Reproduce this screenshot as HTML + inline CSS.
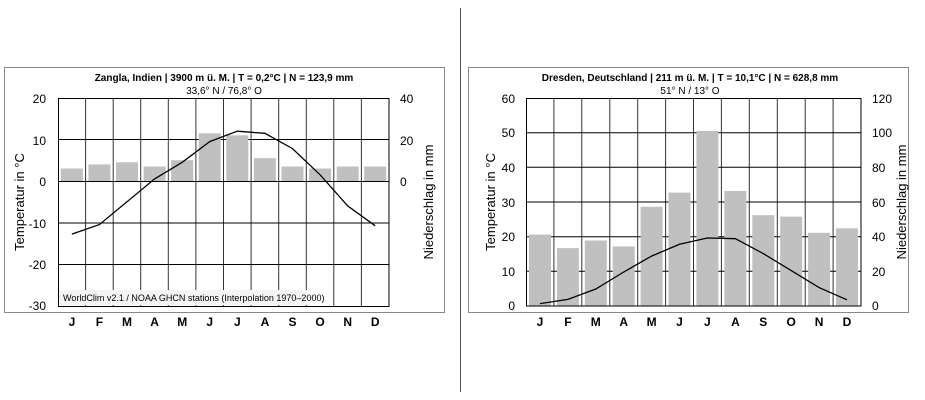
<!DOCTYPE html>
<html><head><meta charset="utf-8"><style>
html,body{margin:0;padding:0;background:#fff;width:925px;height:400px;overflow:hidden}
svg{display:block}
text{font-family:"Liberation Sans",sans-serif;fill:#000}
.t{font-size:10px;font-weight:bold}
.s{font-size:10px}
.a{font-size:13px}
.m{font-size:12px;font-weight:bold}
.y{font-size:12px}
</style></head><body>
<svg width="925" height="400" viewBox="0 0 925 400">
<line x1="460.5" y1="8" x2="460.5" y2="392" stroke="#555" stroke-width="1"/>

<!-- LEFT CHART -->
<rect x="4.5" y="67.5" width="440" height="245" fill="#fff" stroke="#888"/>
<text class="t" x="224" y="81" text-anchor="middle">Zangla, Indien | 3900 m ü. M. | T = 0,2°C | N = 123,9 mm</text>
<text class="s" x="224" y="94" text-anchor="middle">33,6° N / 76,8° O</text>
<g stroke="#333" stroke-width="1">
<line x1="85.6" y1="98" x2="85.6" y2="306"/><line x1="113.2" y1="98" x2="113.2" y2="306"/><line x1="140.7" y1="98" x2="140.7" y2="306"/><line x1="168.3" y1="98" x2="168.3" y2="306"/><line x1="195.9" y1="98" x2="195.9" y2="306"/><line x1="223.5" y1="98" x2="223.5" y2="306"/><line x1="251.1" y1="98" x2="251.1" y2="306"/><line x1="278.7" y1="98" x2="278.7" y2="306"/><line x1="306.3" y1="98" x2="306.3" y2="306"/><line x1="333.8" y1="98" x2="333.8" y2="306"/><line x1="361.4" y1="98" x2="361.4" y2="306"/>
</g>
<g stroke="#000" stroke-width="1">
<line x1="58" y1="139.5" x2="389" y2="139.5"/><line x1="58" y1="181.5" x2="389" y2="181.5"/><line x1="58" y1="223" x2="389" y2="223"/><line x1="58" y1="264.5" x2="389" y2="264.5"/>
</g>
<g fill="#c0c0c0">
<rect x="60.8" y="168.5" width="22" height="12.5"/><rect x="88.4" y="164.4" width="22" height="16.6"/><rect x="116" y="162.3" width="22" height="18.7"/><rect x="143.6" y="166.5" width="22" height="14.5"/><rect x="171.2" y="160.2" width="22" height="20.8"/><rect x="198.7" y="133.3" width="22" height="47.7"/><rect x="226.3" y="135.3" width="22" height="45.7"/><rect x="253.9" y="158.2" width="22" height="22.8"/><rect x="281.5" y="166.5" width="22" height="14.5"/><rect x="309.1" y="168.5" width="22" height="12.5"/><rect x="336.7" y="166.5" width="22" height="14.5"/><rect x="364.2" y="166.5" width="22" height="14.5"/>
</g>
<polyline fill="none" stroke="#000" stroke-width="1.3" points="71.8,234.1 99.4,224.6 127,201.8 154.6,178.9 182.2,162.3 209.7,141.6 237.3,131.2 264.9,133.3 292.5,148.6 320.1,174.8 347.7,205.9 375.2,225.8"/>
<rect x="59" y="290" width="248" height="15" fill="#f4f4f4"/>
<text x="63" y="301" style="font-size:9px">WorldClim v2.1 / NOAA GHCN stations (Interpolation 1970–2000)</text>
<rect x="58.5" y="98.5" width="330.5" height="208" fill="none" stroke="#000"/>
<g class="y" text-anchor="end">
<text x="46" y="103">20</text><text x="46" y="145">10</text><text x="46" y="186">0</text><text x="46" y="228">-10</text><text x="46" y="269">-20</text><text x="46" y="310">-30</text>
</g>
<g class="y">
<text x="400" y="103">40</text><text x="400" y="145">20</text><text x="400" y="186">0</text>
</g>
<text class="a" transform="translate(24,202) rotate(-90)" text-anchor="middle">Temperatur in °C</text>
<text class="a" transform="translate(433,202) rotate(-90)" text-anchor="middle">Niederschlag in mm</text>
<g class="m" text-anchor="middle">
<text x="72" y="326">J</text><text x="99.4" y="326">F</text><text x="127" y="326">M</text><text x="154.6" y="326">A</text><text x="182.2" y="326">M</text><text x="209.7" y="326">J</text><text x="237.3" y="326">J</text><text x="264.9" y="326">A</text><text x="292.5" y="326">S</text><text x="320.1" y="326">O</text><text x="347.7" y="326">N</text><text x="375.2" y="326">D</text>
</g>

<!-- RIGHT CHART -->
<rect x="468.5" y="67.5" width="440" height="245" fill="#fff" stroke="#888"/>
<text class="t" x="690" y="81" text-anchor="middle">Dresden, Deutschland | 211 m ü. M. | T = 10,1°C | N = 628,8 mm</text>
<text class="s" x="690" y="94" text-anchor="middle">51° N / 13° O</text>
<g stroke="#333" stroke-width="1">
<line x1="553.9" y1="98" x2="553.9" y2="306"/><line x1="581.8" y1="98" x2="581.8" y2="306"/><line x1="609.8" y1="98" x2="609.8" y2="306"/><line x1="637.7" y1="98" x2="637.7" y2="306"/><line x1="665.6" y1="98" x2="665.6" y2="306"/><line x1="693.5" y1="98" x2="693.5" y2="306"/><line x1="721.4" y1="98" x2="721.4" y2="306"/><line x1="749.3" y1="98" x2="749.3" y2="306"/><line x1="777.3" y1="98" x2="777.3" y2="306"/><line x1="805.2" y1="98" x2="805.2" y2="306"/><line x1="833.1" y1="98" x2="833.1" y2="306"/>
</g>
<g stroke="#000" stroke-width="1">
<line x1="526" y1="132.7" x2="861" y2="132.7"/><line x1="526" y1="167.3" x2="861" y2="167.3"/><line x1="526" y1="202" x2="861" y2="202"/><line x1="526" y1="236.7" x2="861" y2="236.7"/><line x1="526" y1="271.3" x2="861" y2="271.3"/>
</g>
<g fill="#c0c0c0">
<rect x="529" y="234.6" width="22" height="71.4"/><rect x="556.9" y="248.1" width="22" height="57.9"/><rect x="584.8" y="240.5" width="22" height="65.5"/><rect x="612.7" y="246.4" width="22" height="59.6"/><rect x="640.6" y="206.8" width="22" height="99.2"/><rect x="668.5" y="192.6" width="22" height="113.4"/><rect x="696.4" y="130.9" width="22" height="175.1"/><rect x="724.4" y="190.9" width="22" height="115.1"/><rect x="752.3" y="215.2" width="22" height="90.8"/><rect x="780.2" y="216.6" width="22" height="89.4"/><rect x="808.1" y="232.8" width="22" height="73.2"/><rect x="836" y="228.3" width="22" height="77.7"/>
</g>
<polyline fill="none" stroke="#000" stroke-width="1.3" points="540,303.6 567.9,299.4 595.8,289 623.7,272 651.6,256.1 679.5,244.3 707.4,238 735.4,238.7 763.3,253.6 791.2,270.6 819.1,287.6 847,299.8"/>
<rect x="526.5" y="98.5" width="334.5" height="207.5" fill="none" stroke="#000"/>
<g class="y" text-anchor="end">
<text x="515" y="103">60</text><text x="515" y="137">50</text><text x="515" y="172">40</text><text x="515" y="207">30</text><text x="515" y="241">20</text><text x="515" y="276">10</text><text x="515" y="310">0</text>
</g>
<g class="y">
<text x="872" y="103">120</text><text x="872" y="137">100</text><text x="872" y="172">80</text><text x="872" y="207">60</text><text x="872" y="241">40</text><text x="872" y="276">20</text><text x="872" y="310">0</text>
</g>
<text class="a" transform="translate(495,202) rotate(-90)" text-anchor="middle">Temperatur in °C</text>
<text class="a" transform="translate(906,202) rotate(-90)" text-anchor="middle">Niederschlag in mm</text>
<g class="m" text-anchor="middle">
<text x="540" y="326">J</text><text x="567.9" y="326">F</text><text x="595.8" y="326">M</text><text x="623.7" y="326">A</text><text x="651.6" y="326">M</text><text x="679.5" y="326">J</text><text x="707.4" y="326">J</text><text x="735.4" y="326">A</text><text x="763.3" y="326">S</text><text x="791.2" y="326">O</text><text x="819.1" y="326">N</text><text x="847" y="326">D</text>
</g>
</svg>
</body></html>
